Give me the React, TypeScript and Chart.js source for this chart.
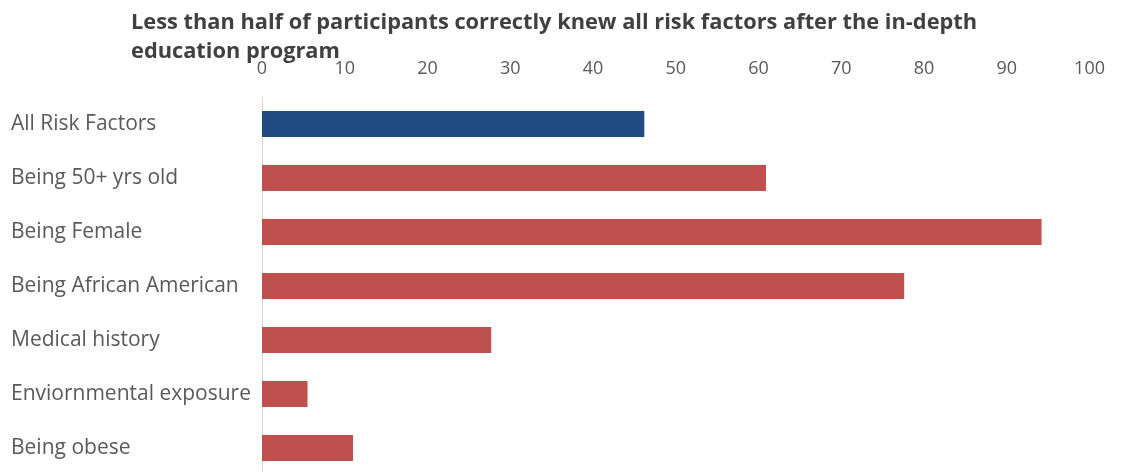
import React, { useEffect, useRef } from "react";
import { Chart, registerables } from "chart.js";

Chart.register(...registerables);

const titleLines = [
  "Less than half of participants correctly knew all risk factors after the in-depth",
  "education program",
];
const categories = [
  "All Risk Factors",
  "Being 50+ yrs old",
  "Being Female",
  "Being African American",
  "Medical history",
  "Enviornmental exposure",
  "Being obese",
];
const values = [46.2, 60.9, 94.2, 77.6, 27.7, 5.5, 11.0];
const barColors = ["#1F4A82", "#C0504D", "#C0504D", "#C0504D", "#C0504D", "#C0504D", "#C0504D"];
const xMin = 0;
const xMax = 100;
const xStep = 10;

const FONT = "'Open Sans', 'DejaVu Sans', sans-serif";

const titlePlugin = {
  id: "leftTitle",
  afterDraw(chart: any) {
    const ctx = chart.ctx;
    ctx.save();
    ctx.font = `bold 21.8px ${FONT}`;
    ctx.fillStyle = "#404040";
    ctx.textAlign = "left";
    ctx.textBaseline = "alphabetic";
    titleLines.forEach((line, i) => {
      ctx.fillText(line, 131, 29 + i * 29);
    });
    ctx.restore();
  },
};

export default function App() {
  const ref = useRef<HTMLCanvasElement | null>(null);
  useEffect(() => {
    if (!ref.current) return;
    const chart = new Chart(ref.current, {
      type: "bar",
      data: {
        labels: categories,
        datasets: [
          {
            data: values,
            backgroundColor: barColors,
            borderWidth: 0,
            barPercentage: 1,
            categoryPercentage: 0.48,
          },
        ],
      },
      options: {
        indexAxis: "y",
        animation: false,
        responsive: false,
        maintainAspectRatio: false,
        layout: { padding: { left: 11, right: 26, top: 58, bottom: 5 } },
        plugins: {
          legend: { display: false },
          title: { display: false },
          tooltip: { enabled: false },
        },
        scales: {
          x: {
            position: "top",
            min: xMin,
            max: xMax,
            grid: { display: false, drawTicks: false },
            border: { display: false },
            ticks: {
              stepSize: xStep,
              padding: 17,
              color: "#595959",
              font: { family: FONT, size: 18 },
            },
            afterFit(scale: any) {
              scale.height = 39;
            },
          },
          y: {
            grid: { display: false, drawTicks: false },
            border: { display: true, color: "#D9D9D9", width: 1 },
            ticks: {
              crossAlign: "far",
              color: "#595959",
              font: { family: FONT, size: 21 },
            },
            afterFit(scale: any) {
              scale.width = 251;
              scale.paddingTop = 0;
              scale.paddingBottom = 0;
            },
          },
        },
      },
      plugins: [titlePlugin],
    });
    return () => chart.destroy();
  }, []);
  return (
    <div style={{ position: "fixed", left: 0, top: 0, width: 1122, height: 472, overflow: "hidden", background: "#fff" }}>
      <canvas ref={ref} width={1122} height={480} style={{ display: "block" }} />
    </div>
  );
}
